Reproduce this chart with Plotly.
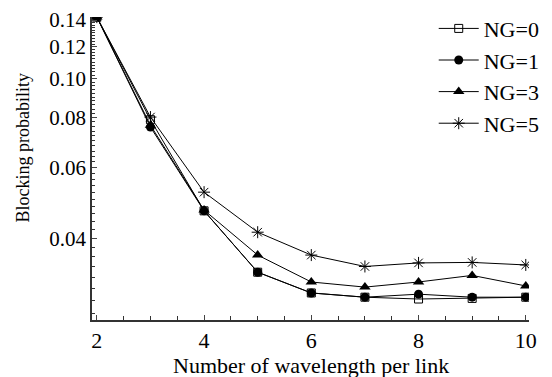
import plotly.graph_objects as go
import numpy as np

wavelengths = [2, 3, 4, 5, 6, 7, 8, 9, 10]
ng0 = [0.1424, 0.0790, 0.0468, 0.0329, 0.0292, 0.0285, 0.0282, 0.0283, 0.0285]
ng1 = [0.1424, 0.0757, 0.0468, 0.0329, 0.0292, 0.0285, 0.0290, 0.0285, 0.0285]
ng3 = [0.1424, 0.0765, 0.0470, 0.0363, 0.0311, 0.0302, 0.0311, 0.0323, 0.0304]
ng5 = [0.1424, 0.0802, 0.0521, 0.0414, 0.0363, 0.0340, 0.0347, 0.0348, 0.0343]

y_tickvals = [0.04, 0.06, 0.08, 0.10, 0.12, 0.14]
y_ticktext = ["0.04", "0.06", "0.08", "0.10", "0.12", "0.14"]
x_tickvals = [2, 4, 6, 8, 10]

FONT = "Liberation Serif, Times New Roman, serif"

fig = go.Figure()
series = [
    ("NG=0", ng0, dict(symbol="square-open", size=8, color="black", line=dict(width=1, color="black"))),
    ("NG=1", ng1, dict(symbol="circle", size=9, color="black")),
    ("NG=3", ng3, dict(symbol="triangle-up", size=10, color="black")),
    ("NG=5", ng5, dict(symbol="asterisk-open", size=10, color="black", line=dict(width=1, color="black"))),
]
for name, vals, mk in series:
    fig.add_trace(go.Scatter(x=wavelengths, y=vals, name=name, mode="lines+markers",
                             line=dict(color="black", width=1), marker=mk))

minor_y = [round(v, 3) for v in np.arange(0.026, 0.1421, 0.002) if round(v, 3) not in y_tickvals]

fig.update_layout(
    width=552, height=377,
    margin=dict(l=92, r=7, t=17, b=57),
    plot_bgcolor="white", paper_bgcolor="white",
    font=dict(family=FONT, size=21, color="black"),
    showlegend=True,
    legend=dict(x=0.782, y=1.031, xanchor="left", yanchor="top", bgcolor="rgba(0,0,0,0)",
                font=dict(size=22), itemwidth=40, tracegroupgap=0),
    xaxis=dict(range=[1.91, 10.06], tickvals=x_tickvals, ticks="inside", ticklen=5,
               showline=True, linecolor="#333", linewidth=1.5, showgrid=False, zeroline=False,
               tickfont=dict(size=22),
               minor=dict(dtick=0.5, tick0=2, ticks="inside", ticklen=4, tickcolor="#333")),
    yaxis=dict(type="log", range=[np.log10(0.0250), np.log10(0.1425)],
               tickvals=y_tickvals, ticktext=y_ticktext, ticks="inside", ticklen=5,
               showline=True, linecolor="#333", linewidth=1.5, showgrid=False, zeroline=False,
               tickfont=dict(size=21),
               minor=dict(tickmode="array", tickvals=minor_y, ticks="inside", ticklen=3, tickcolor="#333")),
    annotations=[
        dict(text="Number of wavelength per link", xref="paper", yref="paper", x=0.5, y=-0.149,
             xanchor="center", yanchor="middle", showarrow=False, font=dict(size=22)),
        dict(text="Blocking probability", xref="paper", yref="paper", x=-0.159, y=0.568,
             xanchor="center", yanchor="middle", showarrow=False, textangle=-90, font=dict(size=18)),
    ],
)

fig.write_html("out.html")
